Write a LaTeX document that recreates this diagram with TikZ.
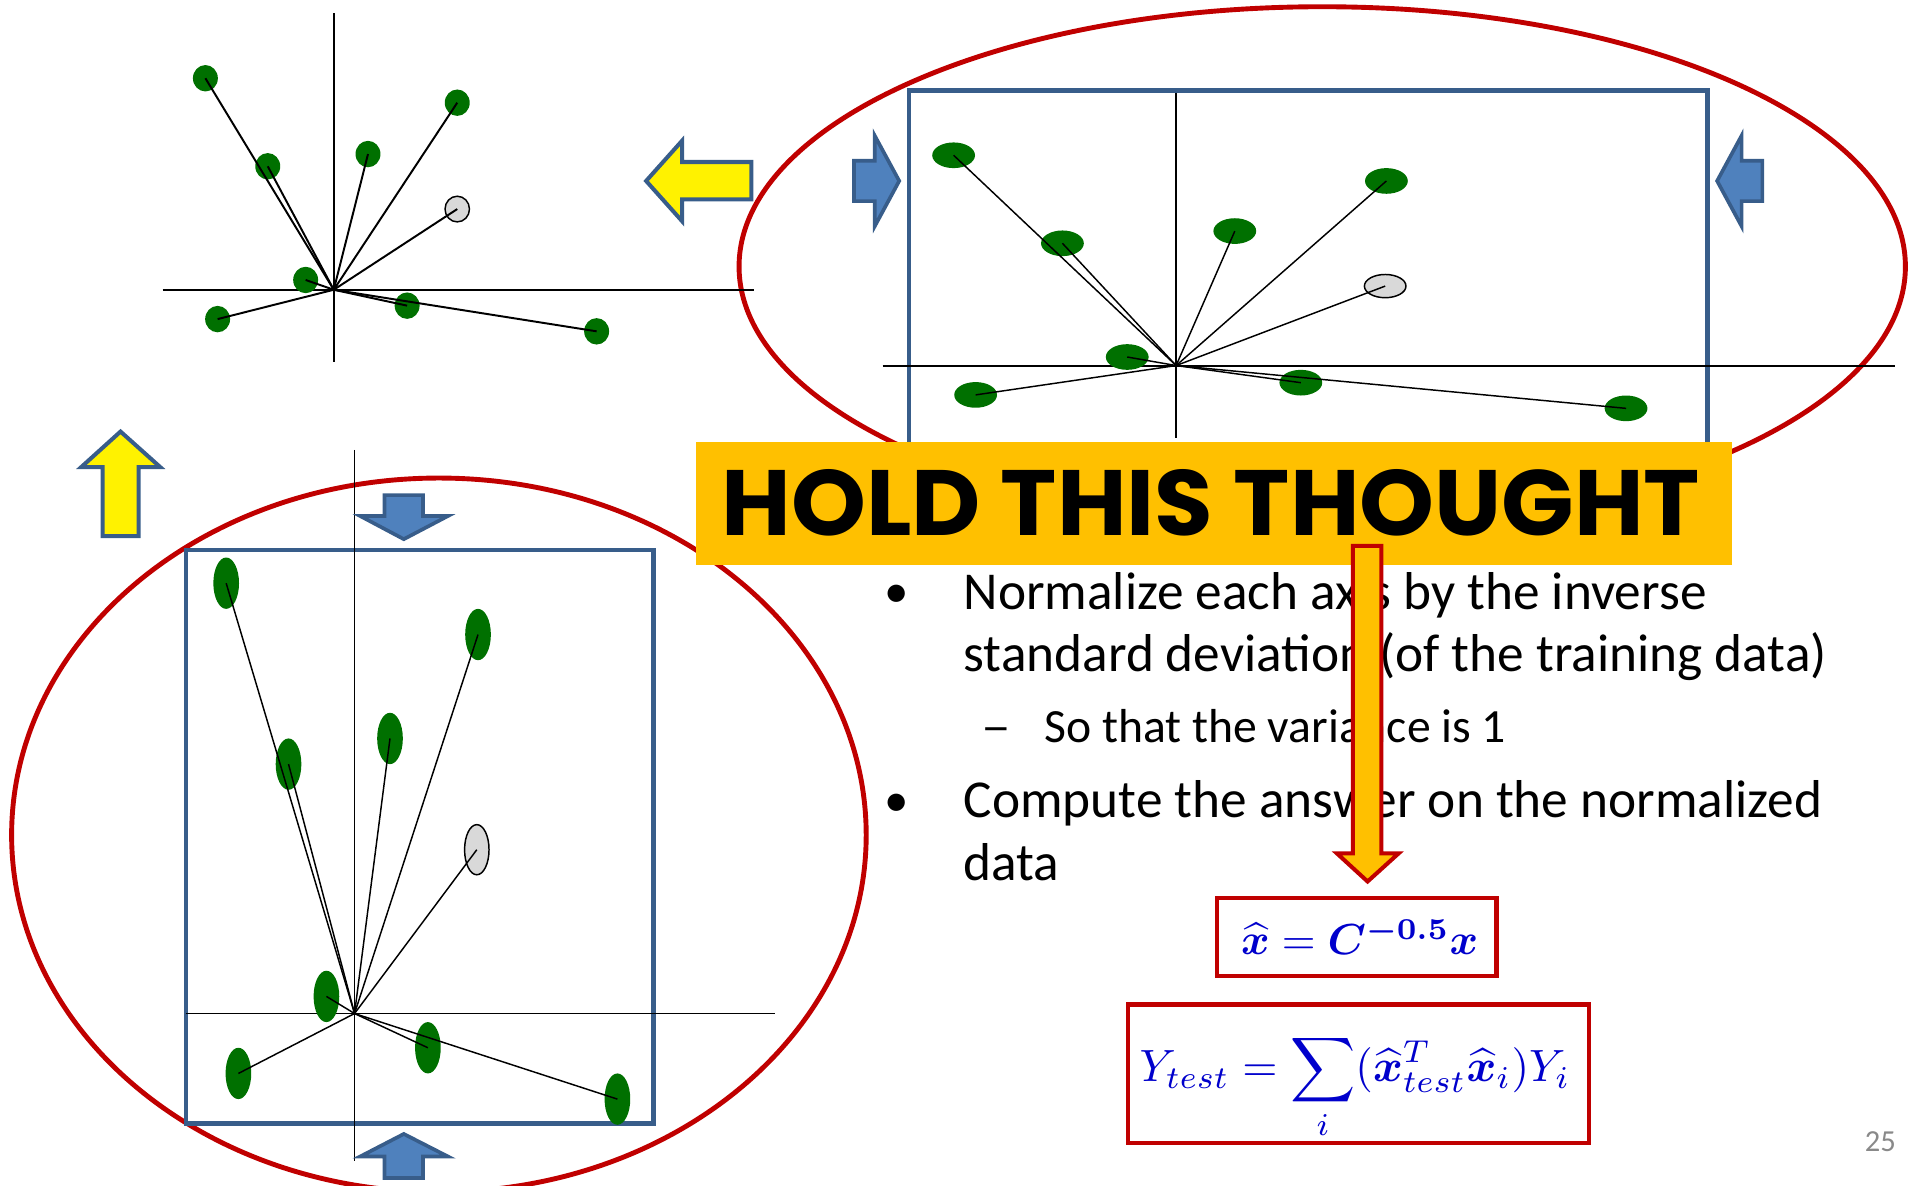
\documentclass[tikz,border=0pt]{standalone}
\usepackage{amsmath}
\usepackage{bm}
\usepackage{graphicx}
\usepackage{fontspec}
\setmainfont{Carlito}
\newfontfamily\holdfont{Poppins}
\definecolor{ptgreen}{RGB}{0,112,0}
\definecolor{ptgray}{RGB}{217,217,217}
\definecolor{darkred}{RGB}{192,0,0}
\definecolor{holdorange}{RGB}{255,192,0}
\definecolor{blockblue}{RGB}{79,129,189}
\definecolor{edgeblue}{RGB}{56,93,138}
\definecolor{mathblue}{RGB}{0,0,204}
\definecolor{pagegray}{RGB}{137,137,137}
\begin{document}
\begin{tikzpicture}[x=1pt,y=-1pt,
  ray/.style={line width=1.2pt},
  thickray/.style={line width=1.6pt},
  axisline/.style={line width=1.6pt},
  thinaxis/.style={line width=1.3pt},
  redring/.style={draw=darkred,line width=4pt},
  bluebox/.style={draw=edgeblue,line width=3.6pt},
  blockarrow/.style={fill=blockblue,draw=edgeblue,line width=3pt,line join=miter},
  yellowarrow/.style={fill=yellow,draw=edgeblue,line width=3.3pt,line join=miter},
  greenpt/.style={fill=ptgreen},
  querypt/.style={fill=ptgray,draw=black,line width=1.2pt},
  bodytext/.style={anchor=base west,inner sep=0pt,font=\fontsize{43.6}{51}\selectfont},
  subtext/.style={anchor=base west,inner sep=0pt,font=\fontsize{39}{45}\selectfont},
  formulabox/.style={draw=darkred,line width=3.6pt},
  formulatext/.style={anchor=base west,inner sep=0pt,text=mathblue}
]
\useasboundingbox (0,0) rectangle (1568,970);

% ================= top-right plot =================
\draw[redring] (1081.5,218) ellipse [x radius=477pt, y radius=212.5pt];
\draw[bluebox] (743.5,74) rectangle (1396.5,445);
\coordinate (tro) at (962,299);
\coordinate (trvt) at (962,76);
\coordinate (trvb) at (962,358);
\coordinate (trhl) at (722,299);
\coordinate (trhr) at (1550,299);
\draw[thinaxis] (trvt) -- (trvb);
\draw[axisline] (trhl) -- (trhr);
\foreach \n/\px/\py in {a/780/127, b/869/199, c/1010/189, d/1134/148, e/922/292, f/798/323, g/1064/313, h/1330/334}
  \coordinate (tr\n) at (\px,\py);
\coordinate (trq) at (1133,234);
\foreach \n in {a,b,c,d,e,f,g,h}
  \fill[greenpt] (tr\n) ellipse [x radius=17.5pt, y radius=10.5pt];
\draw[querypt] (trq) ellipse [x radius=17pt, y radius=9.5pt];
\foreach \n in {a,b,c,d,e,f,g,h,q}
  \draw[ray] (tro) -- (tr\n);
\draw[blockarrow] (698.5,131.5) -- (715.5,131.5) -- (715.5,111) -- (735.5,148) -- (715.5,185) -- (715.5,164.5) -- (698.5,164.5) -- cycle;
\draw[blockarrow] (1441.5,131.5) -- (1424.5,131.5) -- (1424.5,111) -- (1404.5,148) -- (1424.5,185) -- (1424.5,164.5) -- (1441.5,164.5) -- cycle;

% ================= top-left plot =================
\coordinate (tlo) at (273,237);
\coordinate (tlvt) at (273,11);
\coordinate (tlvb) at (273,296);
\coordinate (tlhl) at (133,237);
\coordinate (tlhr) at (617,237);
\draw[axisline] (tlvt) -- (tlvb);
\draw[axisline] (tlhl) -- (tlhr);
\foreach \n/\px/\py in {a/168/64, b/219/136, c/301/126, d/374/84, e/250/229, f/178/261, g/333/250, h/488/271}
  \coordinate (tl\n) at (\px,\py);
\coordinate (tlq) at (374,171);
\foreach \n in {a,b,c,d,e,f,g,h}
  \fill[greenpt] (tl\n) ellipse [x radius=10.2pt, y radius=10.8pt];
\draw[querypt] (tlq) ellipse [x radius=10pt, y radius=10.5pt];
\foreach \n in {a,b,c,d,e,f,g,h,q}
  \draw[thickray] (tlo) -- (tl\n);

% yellow arrows
\draw[yellowarrow] (614.5,132.5) -- (558,132.5) -- (558,115) -- (528.5,148) -- (558,181) -- (558,163) -- (614.5,163) -- cycle;
\draw[yellowarrow] (84,438.5) -- (84,382) -- (66.5,382) -- (98.6,353) -- (131,382) -- (113.3,382) -- (113.3,438.5) -- cycle;

% ================= bottom-left plot =================
\draw[redring] (359,683) ellipse [x radius=349.5pt, y radius=292pt];
\draw[bluebox] (152,450) rectangle (534.5,919);
\coordinate (blo) at (290,829);
\coordinate (blvt) at (290,368);
\coordinate (blvb) at (290,950);
\coordinate (blhl) at (152,829);
\coordinate (blhr) at (634,829);
\draw[thinaxis] (blvt) -- (blvb);
\draw[thinaxis] (blhl) -- (blhr);
\foreach \n/\px/\py in {a/185/477, b/236/625, c/319/604, d/391/519, e/267/815, f/195/878, g/350/857, h/505/899}
  \coordinate (bl\n) at (\px,\py);
\coordinate (blq) at (390,695);
\foreach \n in {a,b,c,d,e,f,g,h}
  \fill[greenpt] (bl\n) ellipse [x radius=10.5pt, y radius=21pt];
\draw[querypt] (blq) ellipse [x radius=10pt, y radius=20.5pt];
\foreach \n in {a,b,c,d,e,f,g,h,q}
  \draw[ray] (blo) -- (bl\n);
\draw[blockarrow] (314.5,405) -- (346,405) -- (346,422) -- (366.5,422) -- (330.3,441) -- (294.5,422) -- (314.5,422) -- cycle;
\draw[blockarrow] (314.5,963.5) -- (346,963.5) -- (346,946) -- (366.5,946) -- (330.3,927.5) -- (294.5,946) -- (314.5,946) -- cycle;

% ================= hold this thought =================
\fill[holdorange] (569.5,361.5) rectangle (1417,462);
\node[anchor=base west,inner sep=0pt] (hold) at (590,438.4)
  {\resizebox{800pt}{54pt}{\holdfont\bfseries HOLD THIS THOUGHT}};

% ================= bullets =================
\node[anchor=base,inner sep=0pt,font=\fontsize{40}{51}\selectfont] (b1) at (733.4,497) {•};
\node[bodytext] (l1) at (788,498.4) {Normalize each axis by the inverse};
\node[bodytext] (l2) at (788,549.4) {standard deviation (of the training data)};
\node[anchor=base,inner sep=0pt,font=\fontsize{39}{45}\selectfont] (d1) at (815,607.5) {\scalebox{1.25}[1]{–}};
\node[subtext] (l3) at (854,607.5) {So that the variance is 1};
\node[anchor=base,inner sep=0pt,font=\fontsize{40}{51}\selectfont] (b2) at (733.4,667.6) {•};
\node[bodytext] (l4) at (788,669) {Compute the answer on the normalized};
\node[bodytext] (l5) at (788,720) {data};

% ================= orange down arrow =================
\draw[fill=holdorange,draw=darkred,line width=3.3pt,line join=miter]
  (1106.5,446.5) -- (1129.8,446.5) -- (1129.8,698) -- (1144,698) -- (1118.6,721) -- (1093.5,698) -- (1106.5,698) -- cycle;

% ================= formulas =================
\draw[formulabox] (995.2,734.3) rectangle (1224.2,798.4);
\node[formulatext] (f1) at (1015,781)
  {\scalebox{3.55}{$\widehat{\bm{x}}=\bm{C}^{\bm{-0.5}}\bm{x}$}};
\draw[formulabox] (922.6,821.6) rectangle (1299.5,934.8);
\node[formulatext] (f2) at (932,884.7)
  {\scalebox{3.7}{$Y_{test}=\displaystyle\sum_{i}(\widehat{\bm{x}}_{test}^{T}\widehat{\bm{x}}_{i})Y_{i}$}};

% page number
\node[anchor=base,inner sep=0pt,text=pagegray,font=\fontsize{25}{30}\selectfont] (pg) at (1538,942) {25};
\end{tikzpicture}
\end{document}
